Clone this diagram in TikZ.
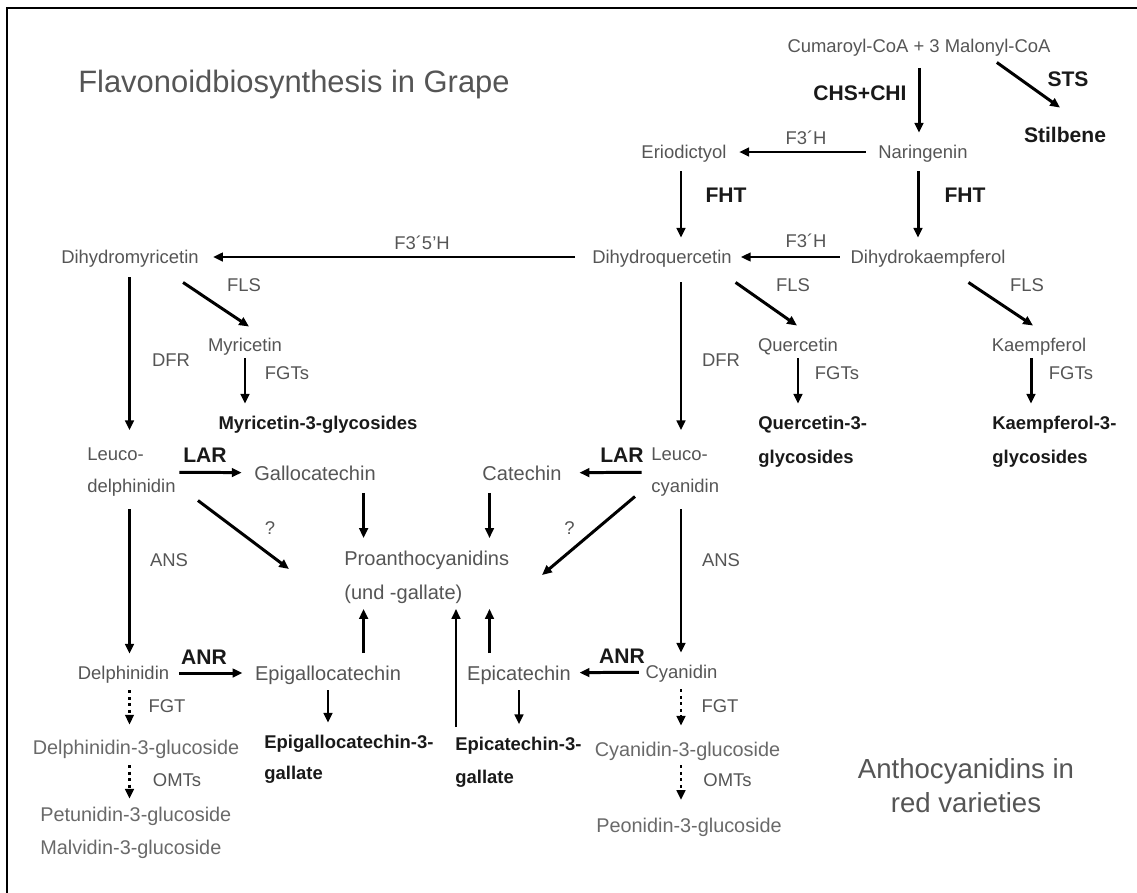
\documentclass[tikz,border=0pt]{standalone}
\usepackage{fontspec}
\setmainfont{Liberation Sans}
\usetikzlibrary{arrows.meta,calc}
\definecolor{cgray}{RGB}{85,85,85}
\definecolor{lgray}{RGB}{105,105,105}
\definecolor{dtxt}{RGB}{25,25,25}

\begin{document}
\begin{tikzpicture}[x=0.02cm,y=-0.02cm,
  cp/.style={inner sep=2pt,font=\fontsize{10.5}{18.7}\selectfont,text=cgray,
             text height=7.5pt,text depth=0pt},
  ml/.style={inner sep=2pt,font=\fontsize{10.5}{18.7}\selectfont,text=cgray,
             align=left,anchor=west},
  ct/.style={inner sep=2pt,font=\fontsize{11.4}{19.3}\selectfont,text=cgray,
             text height=8.2pt,text depth=0pt},
  ctm/.style={inner sep=2pt,font=\fontsize{11.4}{19.3}\selectfont,text=cgray,
             align=left,anchor=west},
  gl/.style={inner sep=2pt,font=\fontsize{11.3}{18.7}\selectfont,text=lgray,
             text height=8.1pt,text depth=0pt},
  glm/.style={inner sep=2pt,font=\fontsize{11.3}{18.7}\selectfont,text=lgray,
             align=left,anchor=west},
  bp/.style={inner sep=2pt,font=\fontsize{10.5}{19.3}\selectfont\bfseries,text=dtxt,
             align=left,anchor=west},
  be/.style={inner sep=2pt,font=\fontsize{12}{14}\selectfont\bfseries,text=dtxt,
             text height=8.6pt,text depth=0pt},
  ar/.style={-{Triangle[length=5.6pt,width=4.9pt]},line width=1.7pt,
             shorten <=5pt,shorten >=5pt},
  dar/.style={ar,dotted},
  dg/.style={-{Triangle[length=5.6pt,width=4.9pt]},line width=1.7pt}]
  \useasboundingbox (0,0) rectangle (1137,893);
  \draw[line width=1.5pt] (1137,8) -- (7,8) -- (7,893);

  \node[font=\fontsize{17.6}{20}\selectfont,text=cgray] (ttl) at (294,85)
    {Flavonoidbiosynthesis in Grape};
  \node[cp] (cum) at (919,46) {Cumaroyl-CoA + 3 Malonyl-CoA};
  \node[cp] (nar) at (923,152) {Naringenin};
  \node[cp] (erio) at (684,152) {Eriodictyol};
  \node[be] (stil) at (1065,135) {Stilbene};
  \node[cp] (dq) at (662,257) {Dihydroquercetin};
  \node[cp] (dk) at (928,257) {Dihydrokaempferol};
  \node[cp] (dm) at (130,257) {Dihydromyricetin};
  \node[cp] (myr) at (245,345) {Myricetin};
  \node[cp] (quer) at (798,345) {Quercetin};
  \node[cp] (kaem) at (1039,345) {Kaempferol};
  \node[bp,anchor=center,text height=7.5pt,text depth=0pt] (myrg) at (318,423)
    {Myricetin-3-glycosides};
  \node[bp] (querg) at (754.5,442) {Quercetin-3-\\glycosides};
  \node[bp] (kaemg) at (988.5,442) {Kaempferol-3-\\glycosides};
  \node[ml] (ld) at (83.5,472) {Leuco-\\delphinidin};
  \node[ml] (lc) at (647.5,472) {Leuco-\\cyanidin};
  \node[ct] (gc) at (315,473) {Gallocatechin};
  \node[ct] (cat) at (522,473) {Catechin};
  \node[ctm] (pa) at (340.5,577) {Proanthocyanidins\\(und -gallate)};
  \node[cp] (del) at (123.5,673) {Delphinidin};
  \node[ct] (egc) at (328,673) {Epigallocatechin};
  \node[ct] (ec) at (519,673) {Epicatechin};
  \node[cp] (cya) at (681.5,672) {Cyanidin};
  \node[bp,font=\fontsize{10.5}{17.6}\selectfont\bfseries] (egcg) at (260.5,759.5)
    {Epigallocatechin-3-\\gallate};
  \node[bp,font=\fontsize{10.5}{18.7}\selectfont\bfseries] (ecg) at (451.5,762)
    {Epicatechin-3-\\gallate};
  \node[gl] (delg) at (136,747) {Delphinidin-3-glucoside};
  \node[glm] (petmal) at (36.5,832.6) {Petunidin-3-glucoside\\Malvidin-3-glucoside};
  \node[gl] (cyag) at (687.5,749) {Cyanidin-3-glucoside};
  \node[gl] (peo) at (689,825) {Peonidin-3-glucoside};
  \node[font=\fontsize{15.7}{19.3}\selectfont,text=cgray,align=center] (antho)
    at (966,786) {Anthocyanidins in\\red varieties};

  \node[be] (chs) at (860,93) {CHS+CHI};
  \node[be] (sts) at (1068,79) {STS};
  \node[cp] (f3ha) at (806,138) {F3´H};
  \node[be] (fhta) at (726,195) {FHT};
  \node[be] (fhtb) at (965,195) {FHT};
  \node[cp] (f3hb) at (806,241) {F3´H};
  \node[cp] (f35h) at (422,243) {F3´5'H};
  \node[cp] (flsa) at (244,285) {FLS};
  \node[cp] (flsb) at (793,285) {FLS};
  \node[cp] (flsc) at (1027,285) {FLS};
  \node[cp] (dfra) at (171,360) {DFR};
  \node[cp] (dfrb) at (721,360) {DFR};
  \node[cp] (fgta) at (287,373) {FGTs};
  \node[cp] (fgtb) at (837,373) {FGTs};
  \node[cp] (fgtc) at (1071,373) {FGTs};
  \node[be] (lara) at (205,455) {LAR};
  \node[be] (larb) at (622,455) {LAR};
  \node[cp] (qa) at (270,528) {?};
  \node[cp] (qb) at (569.5,528) {?};
  \node[cp] (ansa) at (169,560) {ANS};
  \node[cp] (ansb) at (721,560) {ANS};
  \node[be] (anra) at (204,657) {ANR};
  \node[be] (anrb) at (622,656) {ANR};
  \node[cp] (fgla) at (167,706) {FGT};
  \node[cp] (fglb) at (720,706) {FGT};
  \node[cp] (omta) at (177,780) {OMTs};
  \node[cp] (omtb) at (727.5,780) {OMTs};

  \coordinate (cl) at (129.5,0);
  \coordinate (cr) at (681,0);
  \coordinate (cg) at (363.6,0);
  \coordinate (cc) at (489.5,0);
  \coordinate (ce) at (456,0);

  \draw[ar,shorten <=6.5pt] (cum.south) -- (cum.south |- nar.north);
  \draw[dg] ($(cum.south east)+(-57.5,6)$) -- ($(stil.north)+(-5,-16)$);
  \draw[ar] (nar) -- (erio);
  \draw[ar] (erio.south -| cr) -- (dq.north -| cr);
  \draw[ar] ($(nar.south)+(-5,0)$) -- ($(nar.south |- dk.north)+(-5,0)$);
  \draw[ar,shorten <=4pt,shorten >=3pt] (dk) -- (dq);
  \draw[ar,shorten <=7.5pt,shorten >=6pt] (dq) -- (dm);
  \draw[dg] ($(dm.south east)+(-19.5,15)$) -- ($(myr.north)+(4,-8)$);
  \draw[dg] ($(dq.south east)+(0,15)$) -- ($(quer.north)+(-1,-9)$);
  \draw[dg] ($(dk.south)+(40.5,15)$) -- ($(kaem.north)+(-6,-9)$);
  \draw[ar,shorten <=5.5pt,shorten >=7.5pt] (dm.south -| cl) -- (ld.north -| cl);
  \draw[ar,shorten <=1.5pt] (myr.south) -- (myr.south |- myrg.north);
  \draw[ar,shorten <=8.5pt,shorten >=7.5pt] (dq.south -| cr) -- (lc.north -| cr);
  \draw[ar,shorten <=1.5pt] (quer.south) -- (quer.south |- querg.north);
  \draw[ar,shorten <=1.5pt] ($(kaem.south)+(-8,0)$)
    -- ($(kaem.south |- kaemg.north)+(-8,0)$);
  \draw[ar,shorten <=0pt] (ld) -- (gc);
  \draw[ar,shorten <=3.3pt,shorten >=8pt] (lc) -- (cat);
  \draw[ar] (gc.south -| cg) -- (pa.north -| cg);
  \draw[ar] (cat.south -| cc) -- (pa.north -| cc);
  \draw[dg] ($(ld.east)+(18.5,28.5)$) -- ($(pa.west)+(-51.5,-8)$);
  \draw[dg] ($(lc.west)+(-12.5,24.5)$) -- ($(pa.east)+(29,-2)$);
  \draw[ar] (ld.south -| cl) -- (del.north -| cl);
  \draw[ar] (lc.south -| cr) -- (cya.north -| cr);
  \draw[ar,shorten <=3.4pt] (del) -- (egc);
  \draw[ar,shorten <=1.7pt,shorten >=2.8pt] (cya) -- (ec);
  \draw[ar,shorten >=1pt] (egc.north -| cg) -- (pa.south -| cg);
  \draw[ar,shorten >=1pt] (ec.north -| cc) -- (pa.south -| cc);
  \draw[ar,shorten <=3.4pt,shorten >=1pt] (ecg.north -| ce) -- (pa.south -| ce);
  \draw[ar,shorten <=3.4pt] (egc.south) -- (egc.south |- egcg.north);
  \draw[ar,shorten <=3.4pt] (ec.south) -- (ec.south |- ecg.north);
  \draw[dar,shorten <=4pt,shorten >=6.5pt] (del.south -| cl) -- (delg.north -| cl);
  \draw[dar,shorten <=4pt,shorten >=2.5pt] (delg.south -| cl) -- (petmal.north -| cl);
  \draw[dar,shorten <=4pt,shorten >=7pt] (cya.south -| cr) -- (cyag.north -| cr);
  \draw[dar,shorten <=3pt,shorten >=8pt] (cyag.south -| cr) -- (peo.north -| cr);
\end{tikzpicture}
\end{document}
